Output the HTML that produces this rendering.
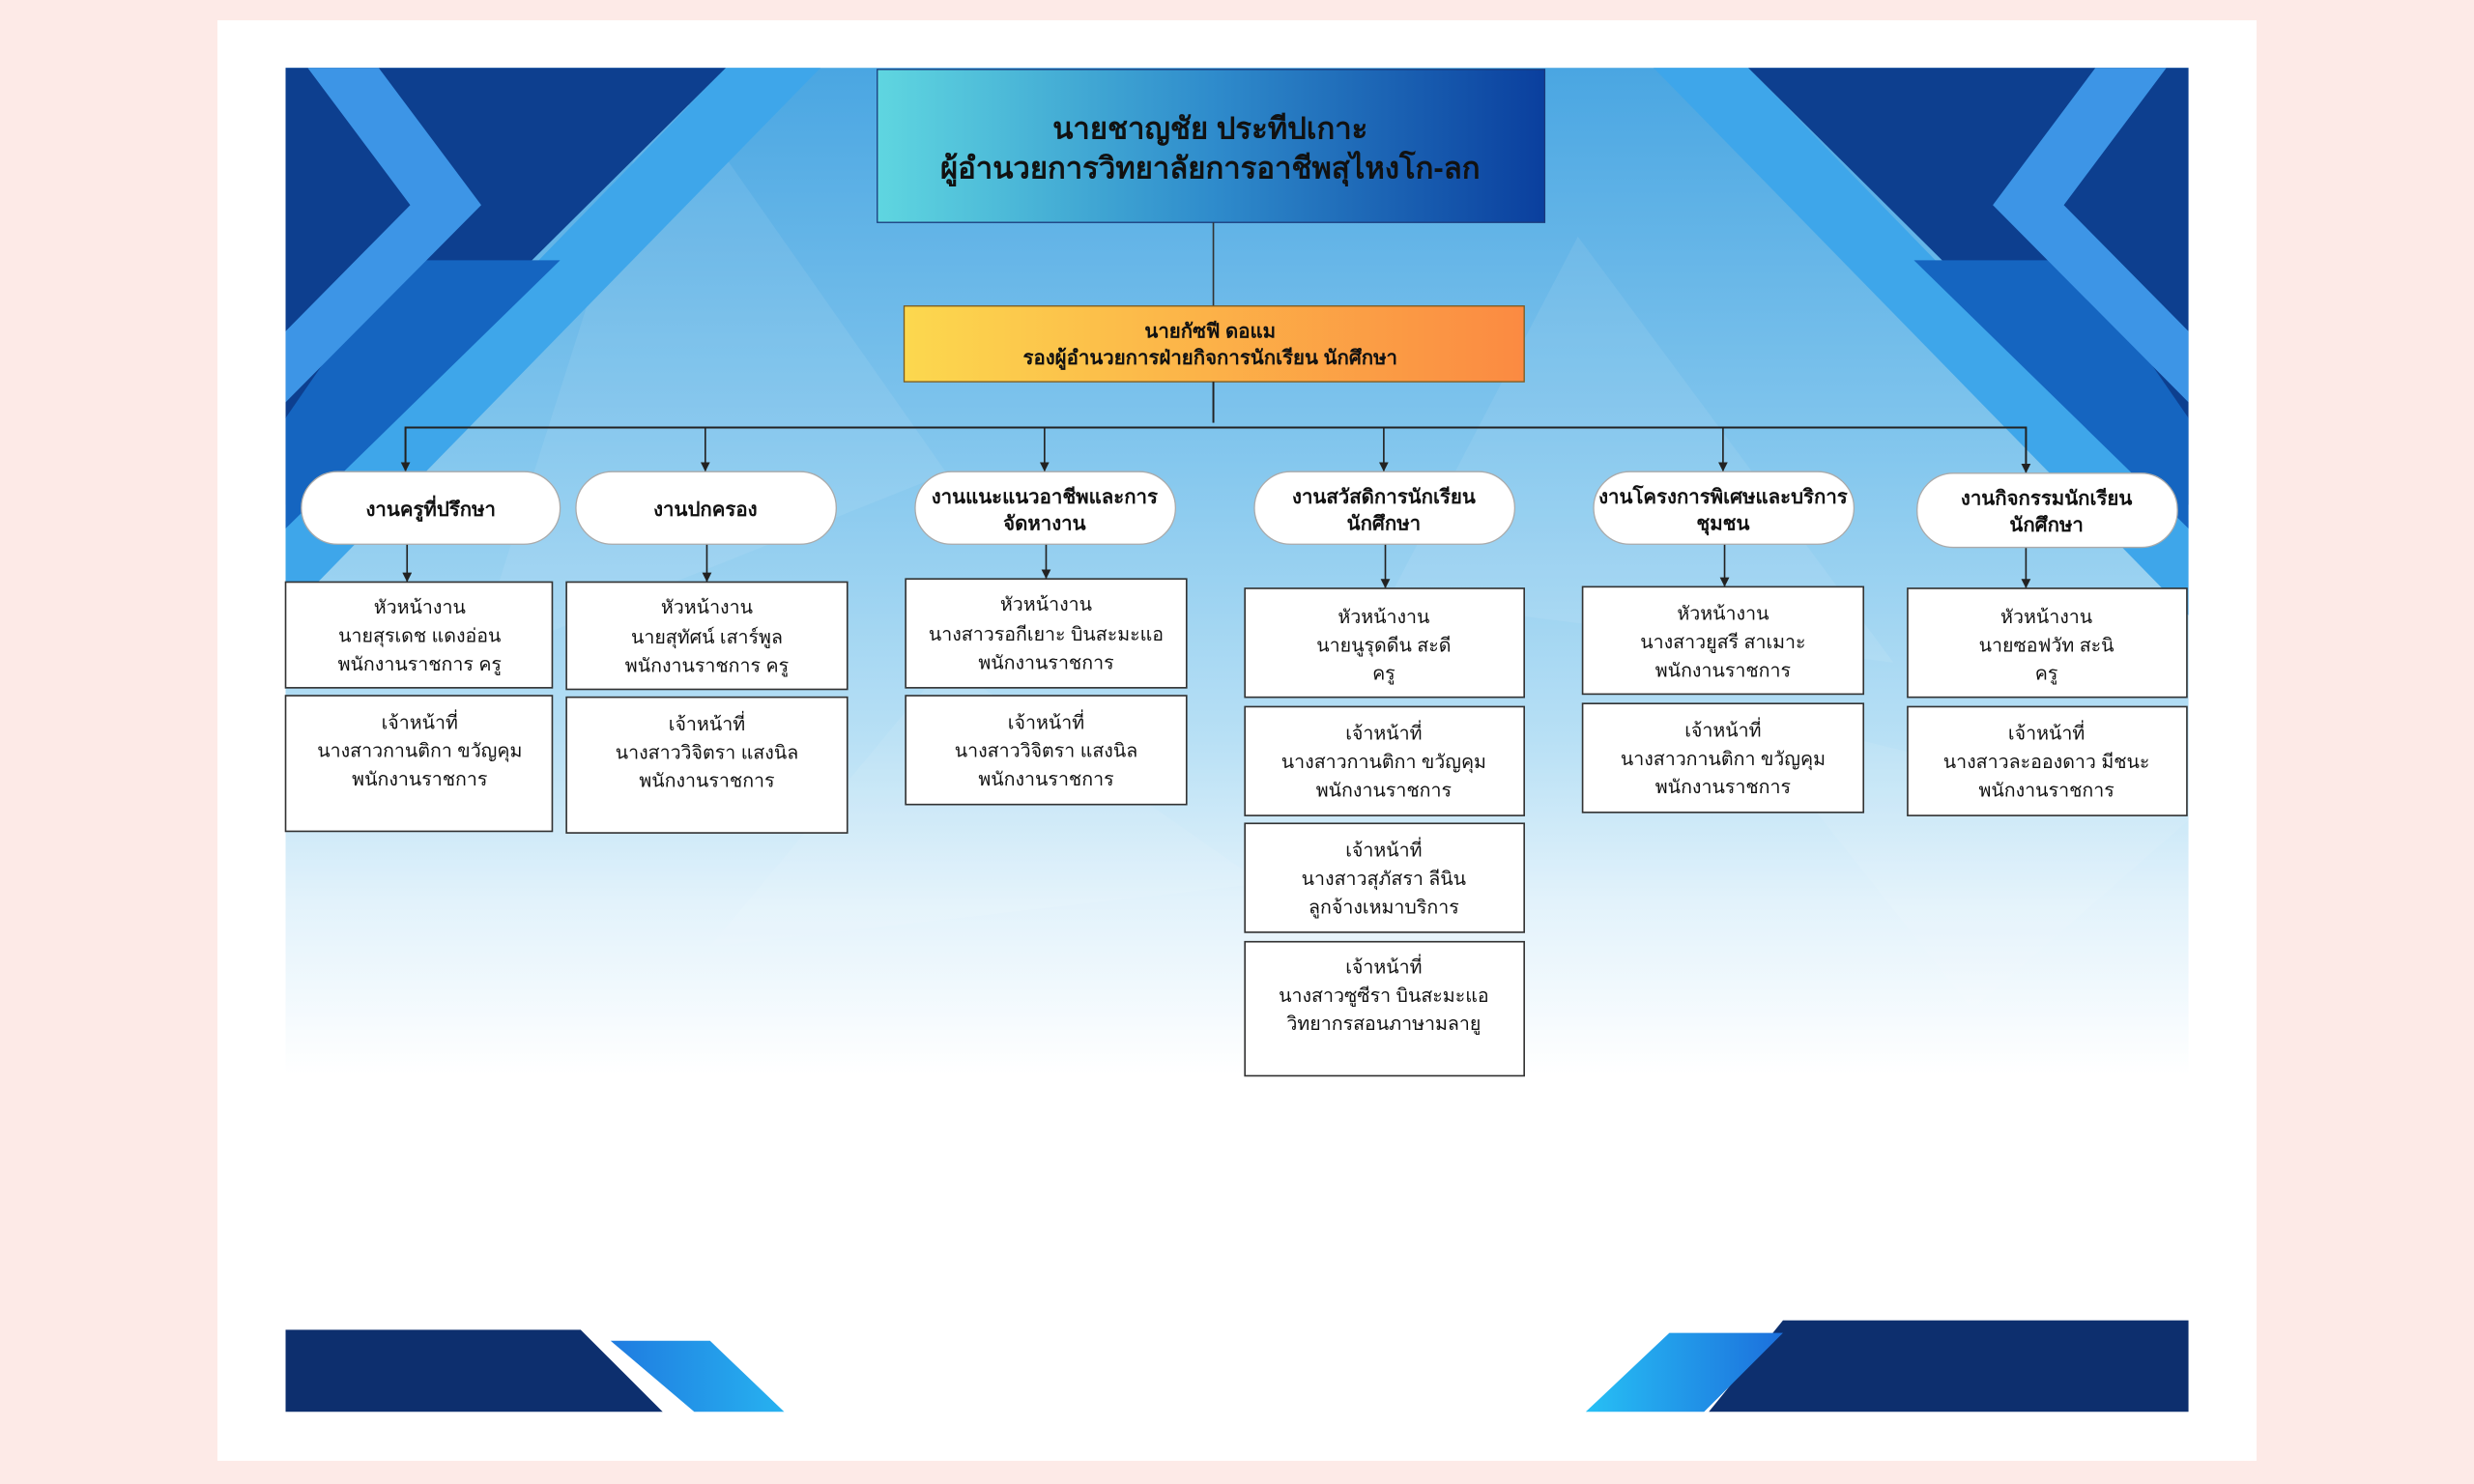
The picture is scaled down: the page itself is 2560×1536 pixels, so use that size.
<!DOCTYPE html>
<html><head><meta charset="utf-8"><style>
html,body{margin:0;padding:0;background:#fdeae7;width:2560px;height:1536px;overflow:hidden}
svg{display:block}
text{font-family:"Liberation Sans","DejaVu Sans","Noto Sans CJK SC",sans-serif;fill:#111}
</style></head><body>
<svg width="2560" height="1536" viewBox="0 0 2560 1536" xmlns="http://www.w3.org/2000/svg">
<defs>
<linearGradient id="bg" x1="0" y1="0" x2="0" y2="1">
<stop offset="0" stop-color="#4aa6e2"/>
<stop offset="0.3" stop-color="#86c8ee"/>
<stop offset="0.5" stop-color="#b8e0f5"/>
<stop offset="0.62" stop-color="#e2f2fb"/>
<stop offset="0.75" stop-color="#ffffff"/>
<stop offset="1" stop-color="#ffffff"/>
</linearGradient>
<linearGradient id="top" x1="0" y1="0" x2="1" y2="0">
<stop offset="0" stop-color="#5fd6e0"/>
<stop offset="0.5" stop-color="#2f8ccc"/>
<stop offset="1" stop-color="#0a3f9e"/>
</linearGradient>
<linearGradient id="org" x1="0" y1="0" x2="1" y2="0">
<stop offset="0" stop-color="#fcd84e"/>
<stop offset="1" stop-color="#fb8a42"/>
</linearGradient>
<linearGradient id="lb" x1="0" y1="0" x2="1" y2="0">
<stop offset="0" stop-color="#1f7be0"/>
<stop offset="1" stop-color="#27b2f0"/>
</linearGradient>
<linearGradient id="lb2" x1="0" y1="0" x2="1" y2="0">
<stop offset="0" stop-color="#27c0f5"/>
<stop offset="1" stop-color="#1c6fdc"/>
</linearGradient>
<marker id="ar" markerWidth="6" markerHeight="6" refX="6" refY="3" orient="auto" markerUnits="userSpaceOnUse">
<path d="M0,0 L6,3 L0,6 z" fill="#222"/>
</marker>
</defs>
<rect x="225" y="21" width="2110" height="1491" fill="#fff"/>
<g transform="scale(1.6327)">
<rect x="181" y="43" width="1206" height="852" fill="url(#bg)"/>
<g opacity="0.08" fill="#fff">
<polygon points="420,43 600,300 300,420"/>
<polygon points="1000,150 1200,420 880,380"/>
<polygon points="600,420 800,560 450,600"/>
<polygon points="1100,450 1387,520 1250,640"/>
</g>
<g>
<polygon points="460,43 520,43 181,390 181,330" fill="#3ea6ea"/>
<polygon points="181,43 460,43 181,320" fill="#0d3f8f"/>
<polygon points="250,165 355,165 181,335 181,265" fill="#1565c0"/>
<polygon points="195,43 240,43 305,130 181,255 181,210 260,130" fill="#3d95e6"/>
</g>
<g transform="translate(1568,0) scale(-1,1)">
<polygon points="460,43 520,43 181,390 181,330" fill="#3ea6ea"/>
<polygon points="181,43 460,43 181,320" fill="#0d3f8f"/>
<polygon points="250,165 355,165 181,335 181,265" fill="#1565c0"/>
<polygon points="195,43 240,43 305,130 181,255 181,210 260,130" fill="#3d95e6"/>
</g>
<polygon points="181,843 368,843 420,895 181,895" fill="#0d2f6e"/>
<polygon points="387,850 450,850 497,895 440,895" fill="url(#lb)"/>
<polygon points="1130,837 1387,837 1387,895 1083,895" fill="#0d2f6e"/>
<polygon points="1058,845 1130,845 1080,895 1005,895" fill="url(#lb2)"/>

<rect x="556" y="44" width="423" height="97" fill="url(#top)" stroke="#1a3a7a" stroke-width="0.8"/>
<text x="767" y="88" font-size="19" font-weight="bold" text-anchor="middle">นายชาญชัย ประทีปเกาะ</text>
<text x="767" y="113" font-size="19" font-weight="bold" text-anchor="middle">ผู้อำนวยการวิทยาลัยการอาชีพสุไหงโก-ลก</text>
<line x1="769" y1="141" x2="769" y2="194" stroke="#333" stroke-width="1"/>
<rect x="573" y="194" width="393" height="48" fill="url(#org)" stroke="#7a5a20" stroke-width="0.8"/>
<text x="767" y="214" font-size="12.5" font-weight="bold" text-anchor="middle">นายกัซฟี ดอแม</text>
<text x="767" y="231" font-size="12.5" font-weight="bold" text-anchor="middle">รองผู้อำนวยการฝ่ายกิจการนักเรียน นักศึกษา</text>
<line x1="769" y1="242" x2="769" y2="268" stroke="#222" stroke-width="1.2"/>
<polyline points="257,298 257,271 1284,271 1284,298" fill="none" stroke="#222" stroke-width="1.2"/>
<g stroke="#222" stroke-width="1" marker-end="url(#ar)">
<line x1="257" y1="271" x2="257" y2="299"/>
<line x1="447" y1="271" x2="447" y2="299"/>
<line x1="662" y1="271" x2="662" y2="299"/>
<line x1="877" y1="271" x2="877" y2="299"/>
<line x1="1092" y1="271" x2="1092" y2="299"/>
<line x1="1284" y1="271" x2="1284" y2="300"/>
<line x1="258" y1="345" x2="258" y2="369"/>
<line x1="448" y1="345" x2="448" y2="369"/>
<line x1="663" y1="345" x2="663" y2="367"/>
<line x1="878" y1="345" x2="878" y2="373"/>
<line x1="1093" y1="345" x2="1093" y2="372"/>
<line x1="1284" y1="347" x2="1284" y2="373"/>
</g>
<g fill="#fff" stroke="#aaa" stroke-width="0.8">
<rect x="191" y="299" width="164" height="46" rx="23"/>
<rect x="365" y="299" width="165" height="46" rx="23"/>
<rect x="580" y="299" width="165" height="46" rx="23"/>
<rect x="795" y="299" width="165" height="46" rx="23"/>
<rect x="1010" y="299" width="165" height="46" rx="23"/>
<rect x="1215" y="300" width="165" height="47" rx="23"/>
</g>
<g font-size="12.5" font-weight="bold" text-anchor="middle">
<text x="273" y="327">งานครูที่ปรึกษา</text>
<text x="447" y="327">งานปกครอง</text>
<text x="662" y="319">งานแนะแนวอาชีพและการ</text><text x="662" y="336">จัดหางาน</text>
<text x="877" y="319">งานสวัสดิการนักเรียน</text><text x="877" y="336">นักศึกษา</text>
<text x="1092" y="319">งานโครงการพิเศษและบริการ</text><text x="1092" y="336">ชุมชน</text>
<text x="1297" y="320">งานกิจกรรมนักเรียน</text><text x="1297" y="337">นักศึกษา</text>
</g>
<g fill="#fff" stroke="#333" stroke-width="1">
<rect x="181" y="369" width="169" height="67"/><rect x="181" y="441" width="169" height="86"/>
<rect x="359" y="369" width="178" height="68"/><rect x="359" y="442" width="178" height="86"/>
<rect x="574" y="367" width="178" height="69"/><rect x="574" y="441" width="178" height="69"/>
<rect x="789" y="373" width="177" height="69"/><rect x="789" y="448" width="177" height="69"/>
<rect x="789" y="522" width="177" height="69"/><rect x="789" y="597" width="177" height="85"/>
<rect x="1003" y="372" width="178" height="68"/><rect x="1003" y="446" width="178" height="69"/>
<rect x="1209" y="373" width="177" height="69"/><rect x="1209" y="448" width="177" height="69"/>
</g>
<g font-size="12" text-anchor="middle">
<text x="266" y="389">หัวหน้างาน</text><text x="266" y="407">นายสุรเดช แดงอ่อน</text><text x="266" y="425">พนักงานราชการ ครู</text>
<text x="266" y="462">เจ้าหน้าที่</text><text x="266" y="480">นางสาวกานติกา ขวัญคุม</text><text x="266" y="498">พนักงานราชการ</text>
<text x="448" y="389">หัวหน้างาน</text><text x="448" y="408">นายสุทัศน์ เสาร์พูล</text><text x="448" y="426">พนักงานราชการ ครู</text>
<text x="448" y="463">เจ้าหน้าที่</text><text x="448" y="481">นางสาววิจิตรา แสงนิล</text><text x="448" y="499">พนักงานราชการ</text>
<text x="663" y="387">หัวหน้างาน</text><text x="663" y="406">นางสาวรอกีเยาะ บินสะมะแอ</text><text x="663" y="424">พนักงานราชการ</text>
<text x="663" y="462">เจ้าหน้าที่</text><text x="663" y="480">นางสาววิจิตรา แสงนิล</text><text x="663" y="498">พนักงานราชการ</text>
<text x="877" y="395">หัวหน้างาน</text><text x="877" y="413">นายนูรุดดีน สะดี</text><text x="877" y="431">ครู</text>
<text x="877" y="469">เจ้าหน้าที่</text><text x="877" y="487">นางสาวกานติกา ขวัญคุม</text><text x="877" y="505">พนักงานราชการ</text>
<text x="877" y="543">เจ้าหน้าที่</text><text x="877" y="561">นางสาวสุภัสรา ลีนิน</text><text x="877" y="579">ลูกจ้างเหมาบริการ</text>
<text x="877" y="617">เจ้าหน้าที่</text><text x="877" y="635">นางสาวซูซีรา บินสะมะแอ</text><text x="877" y="653">วิทยากรสอนภาษามลายู</text>
<text x="1092" y="393">หัวหน้างาน</text><text x="1092" y="411">นางสาวยูสรี สาเมาะ</text><text x="1092" y="429">พนักงานราชการ</text>
<text x="1092" y="467">เจ้าหน้าที่</text><text x="1092" y="485">นางสาวกานติกา ขวัญคุม</text><text x="1092" y="503">พนักงานราชการ</text>
<text x="1297" y="395">หัวหน้างาน</text><text x="1297" y="413">นายซอฟวัท สะนิ</text><text x="1297" y="431">ครู</text>
<text x="1297" y="469">เจ้าหน้าที่</text><text x="1297" y="487">นางสาวละอองดาว มีชนะ</text><text x="1297" y="505">พนักงานราชการ</text>
</g>
</g>
</svg>
</body></html>
